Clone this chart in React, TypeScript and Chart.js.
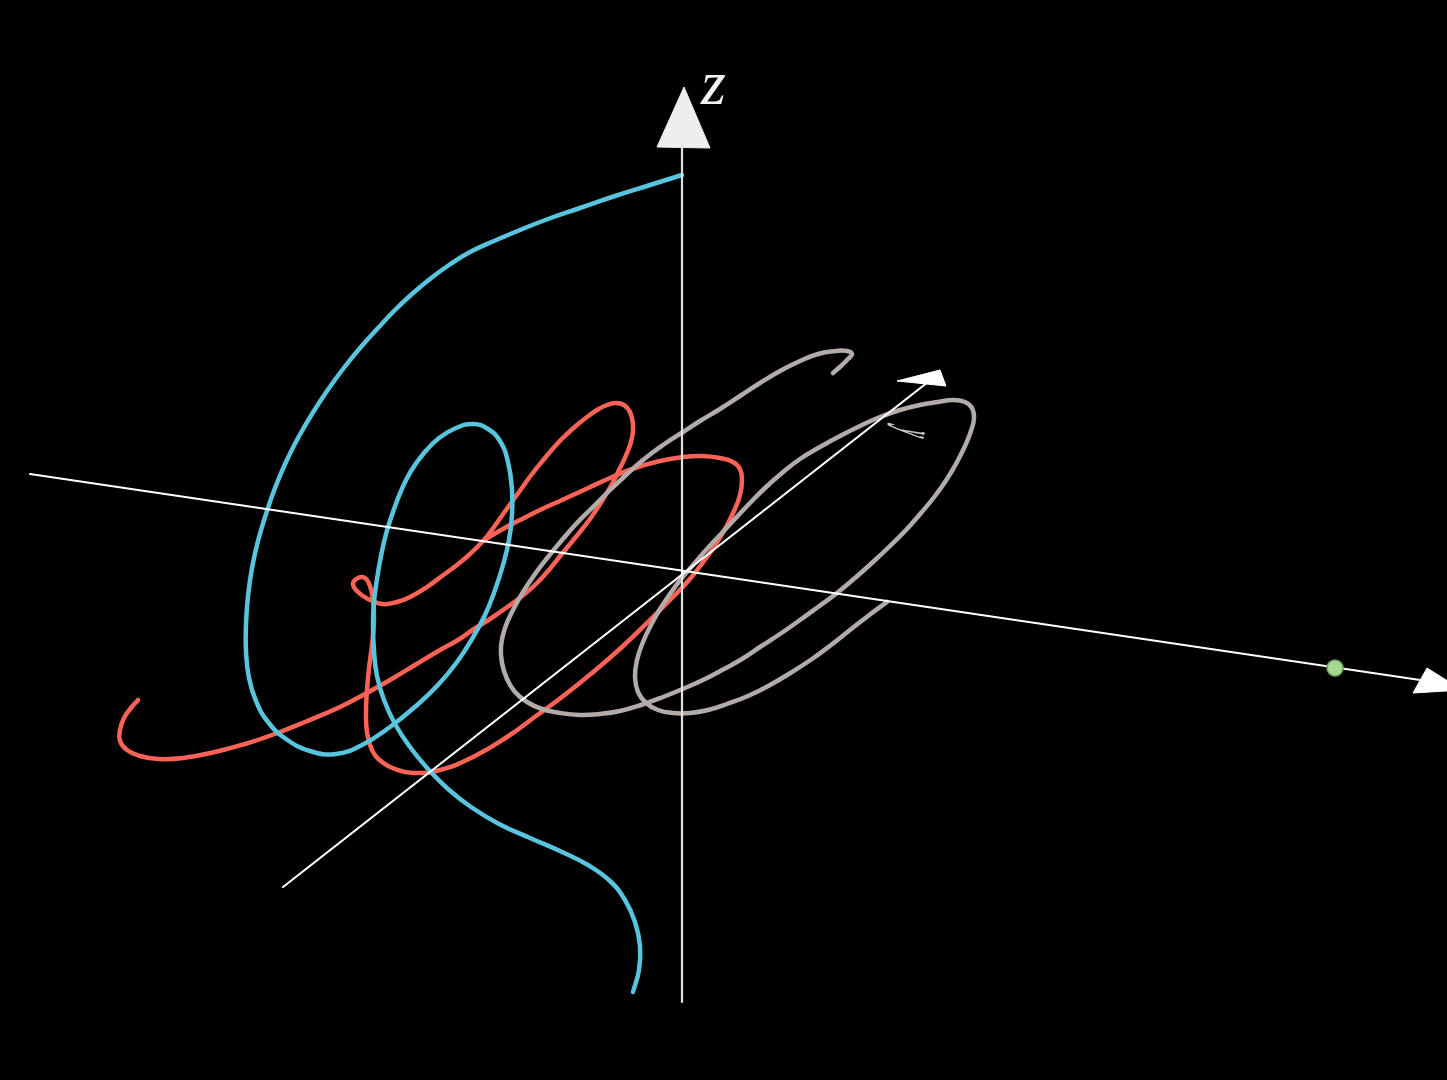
import React, { useEffect, useRef } from "react";
import { Chart, registerables } from "chart.js";

Chart.register(...registerables);

type Pt = [number, number];

// Axis lines (screen-space projection of the 3D axes)
const xAxisLine: Pt[] = [[30, 474], [1420, 680]];
const xArrowHead: Pt[] = [[1427, 668], [1413, 693], [1462, 690], [1427, 668]];
const yAxisLine: Pt[] = [[283, 887], [928, 382]];
const yArrowHead: Pt[] = [[897, 381], [940, 370], [946, 386], [897, 381]];
const zAxisLine: Pt[] = [[682, 1002], [682, 146]];
const zArrowHead: Pt[] = [[657, 147], [710, 148], [684, 87], [657, 147]];
const greenDot: Pt[] = [[1335, 668]];

// Curves
const blueCurve: Pt[] = [
  [682, 175], [650, 185], [615, 196], [580, 208], [548, 219], [520, 230], [494, 241], [470, 252],
  [449, 265], [430, 279], [412, 294], [395, 310], [378, 328], [360, 348], [343, 369], [327, 391],
  [312, 414], [298, 438], [286, 462], [275, 488], [266, 514], [258, 541], [252, 568], [248, 596],
  [246, 624], [246, 652], [249, 678], [256, 701], [268, 722], [286, 739], [310, 751], [336, 754],
  [362, 745], [390, 727], [416, 706], [438, 685], [457, 662], [472, 639], [485, 615], [495, 590],
  [503, 565], [509, 540], [512, 515], [512, 490], [508, 462], [500, 441], [488, 429], [473, 424],
  [456, 428], [439, 438], [424, 453], [411, 471], [401, 491], [393, 512], [386, 534], [381, 556],
  [377, 579], [374, 602], [373, 626], [374, 651], [377, 676], [384, 700], [395, 724], [410, 747],
  [428, 769], [448, 789], [471, 807], [499, 824], [530, 838], [560, 851], [588, 865], [610, 881],
  [625, 900], [635, 922], [640, 946], [639, 970], [633, 992],
];

const redCurve: Pt[] = [
  [138, 700], [131, 708], [124, 718], [120, 730], [120, 741], [127, 750], [140, 756], [158, 759],
  [183, 758], [215, 752], [245, 744], [272, 735], [305, 722], [340, 707], [365, 694], [390, 680],
  [415, 665], [440, 650], [458, 640], [474, 629], [490, 619], [506, 608], [521, 597], [535, 585],
  [548, 571], [561, 555], [575, 538], [590, 519], [602, 501], [612, 484], [620, 468], [627, 453],
  [632, 438], [633, 424], [630, 412], [624, 405], [616, 403], [607, 405], [597, 410], [587, 417],
  [577, 425], [567, 434], [557, 444], [545, 458], [532, 474], [519, 492], [506, 510], [494, 527],
  [483, 541], [470, 554], [457, 565], [442, 576], [427, 587], [412, 596], [397, 602], [382, 604],
  [368, 599], [358, 592], [353, 584], [358, 578], [365, 578], [370, 586], [373, 600], [374, 620],
  [372, 645], [369, 668], [367, 690], [366, 712], [367, 732], [372, 750], [382, 762], [395, 769],
  [413, 773], [440, 770], [473, 757], [507, 737], [536, 716], [562, 697], [592, 673], [622, 647],
  [650, 620], [672, 598], [689, 580], [704, 561], [716, 544], [726, 527], [734, 511], [740, 495],
  [742, 480], [740, 469], [733, 462], [720, 458], [702, 456], [683, 457], [660, 461], [635, 468],
  [610, 478], [586, 489], [562, 500], [540, 510], [520, 520], [501, 530], [483, 541],
];

const grayCurve: Pt[] = [
  [833, 373], [841, 366], [848, 359], [852, 354], [847, 351], [836, 351], [818, 354], [800, 361],
  [780, 371], [760, 383], [740, 396], [720, 409], [700, 421], [683, 432], [663, 445], [643, 460],
  [625, 476], [608, 492], [592, 508], [576, 524], [562, 540], [548, 557], [535, 574], [523, 592],
  [513, 610], [505, 628], [501, 646], [502, 663], [507, 679], [515, 692], [527, 702], [542, 709],
  [560, 713], [580, 715], [600, 714], [620, 711], [641, 705], [663, 697], [685, 688], [705, 679],
  [724, 669], [742, 659], [760, 647], [780, 634], [800, 620], [818, 607], [837, 593], [855, 578],
  [873, 562], [890, 546], [906, 530], [921, 513], [935, 496], [947, 479], [957, 462], [965, 446],
  [971, 431], [974, 418], [972, 408], [965, 402], [953, 400], [938, 402], [920, 405], [900, 410],
  [880, 417], [860, 426], [840, 436], [820, 447], [800, 459], [782, 473], [765, 488], [749, 504],
  [734, 520], [720, 535], [706, 550], [693, 565], [681, 579], [670, 594], [660, 609], [651, 625],
  [643, 642], [637, 660], [635, 677], [638, 692], [646, 703], [658, 710], [673, 713], [690, 713],
  [708, 710], [727, 704], [748, 696], [770, 685], [792, 672], [812, 659], [831, 645], [850, 630],
  [868, 616], [887, 602],
];

// Axis labels
const axisLabels = [
  { text: "z", x: 701, y: 104 },
  { text: "y", x: 913, y: 433 },
];

const toXY = (pts: Pt[]) => pts.map(([x, y]) => ({ x, y }));

const labelPlugin = {
  id: "axisLabels",
  afterDatasetsDraw(chart: any) {
    const { ctx, scales } = chart;
    const sx = scales.x;
    const sy = scales.y;
    ctx.save();
    // z label
    const zl = axisLabels[0];
    ctx.fillStyle = "#f2f2f2";
    ctx.font = 'italic 64px "Liberation Serif", "DejaVu Serif", serif';
    ctx.textAlign = "left";
    ctx.textBaseline = "alphabetic";
    ctx.fillText(zl.text, sx.getPixelForValue(zl.x), sy.getPixelForValue(zl.y));
    // y label (seen nearly edge-on)
    const yl = axisLabels[1];
    ctx.translate(sx.getPixelForValue(yl.x), sy.getPixelForValue(yl.y));
    ctx.rotate(Math.PI / 2 + 0.22);
    ctx.scale(0.6, 2.3);
    ctx.fillStyle = "#cfcfcf";
    ctx.strokeStyle = "#cfcfcf";
    ctx.lineWidth = 0.6;
    ctx.font = 'italic 24px "Liberation Serif", "DejaVu Serif", serif';
    ctx.textAlign = "center";
    ctx.textBaseline = "middle";
    ctx.fillText(yl.text, 0, 0);
    ctx.strokeText(yl.text, 0, 0);
    ctx.restore();
  },
};

export default function App() {
  const ref = useRef<HTMLCanvasElement | null>(null);

  useEffect(() => {
    document.body.style.margin = "0";
    document.body.style.background = "#000";
    if (!ref.current) return;

    const curve = (data: Pt[], color: string, width: number, order: number) => ({
      data: toXY(data),
      showLine: true,
      borderColor: color,
      backgroundColor: color,
      borderWidth: width,
      pointRadius: 0,
      tension: 0.45,
      fill: false,
      order,
      borderCapStyle: "round",
      borderJoinStyle: "round",
    });
    const arrow = (data: Pt[], color: string, order: number) => ({
      data: toXY(data),
      showLine: true,
      borderColor: color,
      backgroundColor: color,
      borderWidth: 1,
      pointRadius: 0,
      tension: 0,
      fill: "shape",
      order,
    });

    const chart = new Chart(ref.current, {
      type: "scatter",
      data: {
        datasets: [
          { ...curve(xAxisLine, "#ffffff", 2.2, 1), tension: 0 },
          arrow(xArrowHead, "#ffffff", 1),
          { ...curve(yAxisLine, "#ffffff", 2.2, 1), tension: 0 },
          arrow(yArrowHead, "#ffffff", 1),
          { ...curve(zAxisLine, "#e2e2e2", 2.2, 1), tension: 0 },
          arrow(zArrowHead, "#eeeeee", 1),
          {
            data: toXY(greenDot),
            pointRadius: 8,
            pointBackgroundColor: "#a6d98e",
            pointBorderColor: "#6f9f5e",
            pointBorderWidth: 1.5,
            showLine: false,
            order: 0,
          },
          curve(blueCurve, "#58C4DD", 4.5, 2),
          curve(grayCurve, "#b3abaa", 4.5, 3),
          curve(redCurve, "#FC6255", 4.5, 4),
        ] as any,
      },
      options: {
        animation: false,
        responsive: true,
        maintainAspectRatio: false,
        devicePixelRatio: 1,
        events: [],
        layout: { padding: 0, autoPadding: false },
        plugins: { legend: { display: false }, tooltip: { enabled: false } },
        scales: {
          x: { type: "linear", min: 0, max: 1447, display: false },
          y: { type: "linear", min: 0, max: 1080, reverse: true, display: false },
        },
      } as any,
      plugins: [labelPlugin],
    });
    return () => chart.destroy();
  }, []);

  return (
    <div style={{ position: "relative", width: 1447, height: 1080, background: "#000" }}>
      <canvas ref={ref} />
    </div>
  );
}
